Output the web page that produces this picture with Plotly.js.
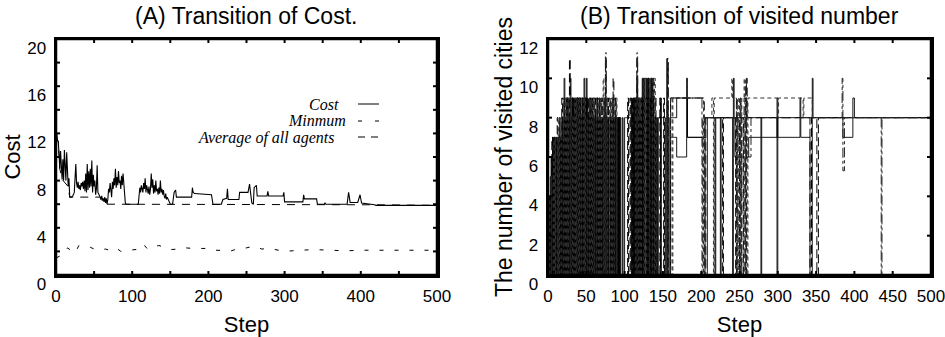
<!DOCTYPE html>
<html>
<head>
<meta charset="utf-8">
<script src="https://cdn.plot.ly/plotly-3.0.1.min.js"></script>
<style>html,body{margin:0;padding:0;background:#fff;}#chart{width:945px;height:337px;}</style>
</head>
<body>
<div id="chart"></div>
<script>
// ---------- Panel A: Transition of Cost ----------
const costSteps = [0,1,2,3,4,5,6,7,8,9,10,11,12,13,14,15,16,17,18,20,22,24,25,26,27,28,29,30,31,32,33,34,35,36,37,38,39,40,41,42,43,44,45,46,47,48,49,50,51,52,53,54,55,56,57,58,59,60,61,62,63,64,65,66,67,68,69,70,71,72,73,74,75,76,77,78,79,80,81,82,83,84,85,86,87,88,89,90,91,92,108,110,111,112,113,114,115,116,117,118,119,120,121,122,123,124,125,126,127,128,129,130,131,132,133,134,135,136,137,138,139,140,141,142,143,144,145,146,148,150,153,155,157,158,178,179,180,182,204,206,217,219,224,225,226,240,241,252,254,255,257,259,260,263,264,277,278,279,298,299,300,324,325,326,342,343,352,353,354,382,384,386,396,399,401,418,420,500];
const costValues = [11.8,12.0,11.4,11.3,10.2,9.0,10.5,8.5,8.1,9.8,8.0,10.6,8.2,8.0,10.4,8.5,7.5,8.2,6.6,6.6,6.7,7.0,8.4,9.4,7.8,7.4,7.9,7.3,7.6,7.2,7.8,7.5,7.9,7.3,8.0,7.1,8.6,7.0,9.4,7.2,8.8,7.4,9.0,7.5,9.7,7.0,8.5,7.5,8.0,6.8,7.3,9.3,7.0,6.9,6.7,6.6,6.4,6.7,6.3,6.5,6.2,6.6,6.1,6.5,6.0,6.4,7.3,7.0,7.8,7.2,6.6,7.9,7.3,8.2,7.6,9.0,7.4,8.3,7.6,8.8,7.8,8.0,7.3,8.4,7.6,8.6,7.5,7.3,6.1,6.0,6.0,7.4,7.0,7.6,7.2,7.0,7.8,7.3,8.2,7.0,7.6,7.1,6.9,7.5,6.8,7.3,8.6,7.4,8.1,6.9,7.6,7.0,8.0,7.1,7.3,6.8,7.4,6.9,8.0,7.0,7.3,6.8,7.2,6.7,6.5,6.9,6.4,6.6,6.2,6.0,6.0,7.0,7.2,6.6,6.6,7.4,7.0,6.9,6.8,6.0,6.0,6.4,6.5,7.3,6.4,6.4,7.0,7.0,7.7,7.2,6.1,6.0,7.4,7.6,6.7,6.7,7.1,6.7,6.7,7.0,6.2,6.2,6.8,6.45,6.45,6.0,6.0,6.1,6.0,6.0,7.0,6.15,6.15,6.8,6.1,5.95,5.9,5.9];

const avgSteps = [0,3,5,8,16,18,58,59,63,67,420,500];
const avgValues = [11.8,11.3,9.0,8.1,7.5,6.6,6.6,6.4,6.2,6.0,5.95,5.9];

const minSteps = [0,5,10,15,20,25,30,35,40,45,50,55,60,65,70,75,80,85,90,95,100,105,110,115,120,125,130,135,140,145,150,160,170,180,190,200,210,220,230,240,250,260,270,280,290,300,320,340,360,380,400,420,440,460,480,500];
const minValues = [1.45,1.6,1.75,2.3,2.1,1.85,2.5,2.45,2.4,2.35,2.2,2.1,2.15,2.2,2.1,2.3,2.25,2.0,2.05,2.1,2.1,2.15,2.2,2.6,2.2,2.35,2.45,2.5,2.4,2.3,2.15,2.2,2.3,2.25,2.25,2.25,2.1,2.1,2.05,2.25,2.3,2.45,2.2,2.25,2.1,2.0,2.1,2.15,2.1,2.05,2.1,2.1,2.1,2.1,2.1,2.1];

// tick positions
const stepTicks = [0,50,100,150,200,250,300,350,400,450,500];
const costTicks = [0,2,4,6,8,10,12,14,16,18,20];
const visitedTicks = [0,2,4,6,8,10,12];

// ---------- Panel B: visited cities per agent ----------
const agentA = [4,0,4,0,6,0,6,0,7,0, 7,0,7,7,0,8,0,7,0,8, 0,10,0,8,0,9,0,9,9,0, 8,0,9,0,9,0,8,0,9,0, 9,9,0,8,0,9,0,10,0,9, 0,9,0,8,8,0,9,0,8,0, 8,0,8,0,9,0,8,8,0,8, 0,8,0,9,0,8,0,8,0,8, 8,0,8,0,9,0,8,0,8,0, 8,0,8,0,8,0,0,8,0,0, 8,8,8,8,8,8,8,8,8,8, 8,0,9,0,9,0,10,0,9,0, 8,0,9,0,10,0,10,10,0,9, 0,10,0,9,0,10,0,9,0,8, 0,0,8,0,0,0,0,9,0,0, 0,0,0,0,0,11,0,0,0,8, 8,8,8,8,8,8];
const agentATailSteps = [168,181,182,205,218,219,225,226,241,242,243,278,279,299,300,500];
const agentATailValues = [9,10,7,8,0,8,0,8,0,10,8,0,8,0,8,8];

const agentB = [0,3,0,5,0,6,7,0,6,0, 0,7,0,0,7,0,7,0,8,0, 7,0,8,0,9,9,0,8,0,10, 0,9,9,0,8,0,9,0,9,9, 0,9,0,9,9,0,8,0,9,0, 10,0,8,0,9,0,8,0,9,9, 0,8,0,8,0,8,0,9,0,8, 8,0,8,0,9,0,8,0,8,0, 0,8,0,8,8,0,8,0,8,0, 0,8,0,8,0,0,0,0,0,0, 0,0,0,0,0,0,0,0,0,9, 0,9,0,8,0,9,0,9,0,8, 0,9,0,10,0,9,0,0,10,0, 10,0,9,0,10,10,0,9,0,0, 8,0,0,0,8,8,8,8,8,8, 8,8,8,0,8,8,8,0,0,0, 7,7,7,7,7,7];
const agentBTailSteps = [168,181,182,205,208,244,262,299,300,329,330,342,345,346,385,398,400,500];
const agentBTailValues = [6,9,7,0,8,6,7,9,7,9,7,0,10,8,7,9,8,8];

const agentC = [0,0,4,0,0,7,0,0,7,0, 0,0,8,0,0,7,0,0,9,0, 0,9,0,0,9,0,0,0,11,0, 0,0,9,0,0,9,0,0,9,0, 0,0,9,0,0,9,0,0,0,9, 0,0,9,0,0,9,0,0,9,0, 0,9,0,0,9,0,0,9,0,0, 9,0,0,0,9,11,0,0,9,0, 0,9,0,0,0,10,0,0,9,0, 0,0,8,0,0,0,0,0,0,0, 0,0,0,0,9,0,0,9,0,0, 9,0,0,9,0,0,11,0,0,9, 0,0,9,0,0,9,0,0,9,0, 0,10,0,0,9,0,0,10,0,0, 9,0,0,0,0,0,9,0,0,0, 0,9,0,0,0,0,11,0,0,0, 9,9,9,9,9,9];
const agentCTailSteps = [168,204,206,228,229,245,246,247,248,250,251,252,253,255,256,258,259,260,342,344,351,353,500];
const agentCTailValues = [9,0,8,0,8,0,9,0,8,0,9,0,8,0,9,0,10,8,0,8,0,8,8];

const agentD = [0,4,0,0,5,0,0,6,0,7, 0,0,7,0,8,0,0,8,0,0, 9,0,0,9,0,0,9,0,0,9, 0,0,8,0,0,9,0,9,0,0, 9,0,0,9,0,0,9,0,9,0, 0,8,0,0,9,0,0,9,0,0, 9,0,0,9,0,0,9,0,0,9, 0,0,10,0,9,0,0,9,0,0, 9,0,0,9,0,0,9,0,0,9, 0,0,0,0,0,0,0,0,0,0, 0,0,0,0,0,0,0,0,0,0, 0,0,0,0,9,0,0,0,9,0, 0,9,0,0,0,10,0,0,9,0, 0,0,10,0,0,0,9,0,0,10, 0,0,0,0,0,0,0,0,0,0, 0,0,0,0,0,9,9,9,9,9, 9,9,0,9,9,9];
const agentDTailSteps = [168,181,182,203,205,214,216,217,240,241,246,247,249,250,252,253,256,257,258,260,261,300,301,333,334,345,500];
const agentDTailValues = [9,10,9,0,8,9,0,9,10,9,0,9,0,9,0,9,10,0,9,0,9,8,9,8,9,8,8];

const agentESteps = [0,75,76,116,117,156,157,160,200,201,202,258,259,265,384,385,387,435,436,500];
const agentEValues = [0,11.3,0,11.3,0,11,0,9,9,0,8,10,6,8,10,5.3,8,0,8,8];

function agent(dense, tailSteps, tailValues) {
  return { x: dense.map((v, i) => i).concat(tailSteps), y: dense.concat(tailValues) };
}
const A = agent(agentA, agentATailSteps, agentATailValues);
const B = agent(agentB, agentBTailSteps, agentBTailValues);
const C = agent(agentC, agentCTailSteps, agentCTailValues);
const D = agent(agentD, agentDTailSteps, agentDTailValues);

const W = 945, H = 337;
const px = v => v / W, py = v => (H - v) / H;

const traces = [
  {x: costSteps, y: costValues, xaxis: 'x', yaxis: 'y', mode: 'lines', name: 'Cost', line: {color: '#000', width: 1.1}},
  {x: minSteps, y: minValues, xaxis: 'x', yaxis: 'y', mode: 'lines', name: 'Minmum', line: {color: '#000', width: 1, dash: '4px,11px'}},
  {x: avgSteps, y: avgValues, xaxis: 'x', yaxis: 'y', mode: 'lines', name: 'Average of all agents', line: {color: '#000', width: 1, dash: '8px,7px'}},
  {x: A.x, y: A.y, xaxis: 'x2', yaxis: 'y2', mode: 'lines', line: {color: '#000', width: 0.9, shape: 'hv'}},
  {x: B.x, y: B.y, xaxis: 'x2', yaxis: 'y2', mode: 'lines', line: {color: '#000', width: 0.9, shape: 'hv'}},
  {x: C.x, y: C.y, xaxis: 'x2', yaxis: 'y2', mode: 'lines', line: {color: '#000', width: 1, shape: 'hv', dash: '9px,4px'}},
  {x: D.x, y: D.y, xaxis: 'x2', yaxis: 'y2', mode: 'lines', line: {color: '#333', width: 1, shape: 'hv', dash: '4px,3px'}},
  {x: agentESteps, y: agentEValues, xaxis: 'x2', yaxis: 'y2', mode: 'lines', line: {color: '#222', width: 1, shape: 'hv', dash: '10px,3px,3px,3px'}}
];

const yDom = [62 / H, 298 / H];
const xDomA = [56 / W, 437 / W];
const xDomB = [548 / W, 931 / W];
const rangeStep = [0, 500], rangeCost = [0, 20], rangeVisited = [0, 12];

function axisCommon(extra) {
  return Object.assign({
    showline: true, linewidth: 2.5, linecolor: '#000', mirror: true,
    ticks: '', showgrid: false, zeroline: false, ticklabeloverflow: 'allow',
    tickfont: {size: 17, color: '#000'}
  }, extra);
}

// frame and inside tick marks as paper-space shapes (axis decorations)
const shapes = [];
function frameAndTicks(xd, yd, xr, yr, xt, yt) {
  const lw = 2.5, tl = 4;
  shapes.push({type: 'rect', xref: 'paper', yref: 'paper', x0: xd[0], x1: xd[1], y0: yd[0], y1: yd[1],
    line: {color: '#000', width: lw}, layer: 'above'});
  const fx = t => xd[0] + (t - xr[0]) / (xr[1] - xr[0]) * (xd[1] - xd[0]);
  const fy = t => yd[0] + (t - yr[0]) / (yr[1] - yr[0]) * (yd[1] - yd[0]);
  xt.forEach(t => {
    shapes.push({type: 'line', xref: 'paper', yref: 'paper', x0: fx(t), x1: fx(t), y0: yd[0], y1: yd[0] + tl / H, line: {color: '#000', width: 2}, layer: 'above'});
    shapes.push({type: 'line', xref: 'paper', yref: 'paper', x0: fx(t), x1: fx(t), y0: yd[1], y1: yd[1] - tl / H, line: {color: '#000', width: 2}, layer: 'above'});
  });
  yt.forEach(t => {
    shapes.push({type: 'line', xref: 'paper', yref: 'paper', y0: fy(t), y1: fy(t), x0: xd[0], x1: xd[0] + tl / W, line: {color: '#000', width: 2}, layer: 'above'});
    shapes.push({type: 'line', xref: 'paper', yref: 'paper', y0: fy(t), y1: fy(t), x0: xd[1], x1: xd[1] - tl / W, line: {color: '#000', width: 2}, layer: 'above'});
  });
}
frameAndTicks(xDomA, yDom, rangeStep, rangeCost, stepTicks, costTicks);
frameAndTicks(xDomB, yDom, rangeStep, rangeVisited, stepTicks, visitedTicks);

// legend line samples
shapes.push(
  {type: 'line', xref: 'paper', yref: 'paper', x0: px(358), x1: px(379), y0: py(104), y1: py(104), line: {color: '#000', width: 1}},
  {type: 'line', xref: 'paper', yref: 'paper', x0: px(358), x1: px(379), y0: py(121), y1: py(121), line: {color: '#000', width: 1, dash: '4px,13px'}},
  {type: 'line', xref: 'paper', yref: 'paper', x0: px(358), x1: px(379), y0: py(137), y1: py(137), line: {color: '#000', width: 1, dash: '7px,6px'}}
);

const serif = 'Liberation Serif, Times New Roman, serif';
const layout = {
  width: W, height: H, margin: {l: 0, r: 0, t: 0, b: 0},
  paper_bgcolor: '#fff', plot_bgcolor: '#fff', showlegend: false,
  font: {family: 'Liberation Sans, Arial, sans-serif', color: '#000'},
  xaxis: axisCommon({domain: xDomA, range: rangeStep, tick0: 0, dtick: 100,
    ticklabelstandoff: 4, anchor: 'y', title: {text: 'Step', font: {size: 22}, standoff: 12}}),
  yaxis: axisCommon({domain: yDom, range: rangeCost, tick0: 0, dtick: 4,
    ticklabelshift: 9, ticklabelstandoff: 4, anchor: 'x', title: {text: 'Cost', font: {size: 22}, standoff: 1}}),
  xaxis2: axisCommon({domain: xDomB, range: rangeStep, tick0: 0, dtick: 50,
    ticklabelstandoff: 4, anchor: 'y2', title: {text: 'Step', font: {size: 22}, standoff: 12}}),
  yaxis2: axisCommon({domain: yDom, range: rangeVisited, tick0: 0, dtick: 2,
    ticklabelshift: 9, ticklabelstandoff: 4, anchor: 'x2', title: {text: 'The number of visited cities', font: {size: 23}, standoff: 0}}),
  annotations: [
    {text: '(A) Transition of Cost.', xref: 'paper', yref: 'paper', x: px(246.5), y: py(16), xanchor: 'center', yanchor: 'middle', showarrow: false, font: {size: 23}},
    {text: '(B) Transition of visited number', xref: 'paper', yref: 'paper', x: px(739.5), y: py(16), xanchor: 'center', yanchor: 'middle', showarrow: false, font: {size: 23}},
    {text: '<i>Cost</i>', xref: 'paper', yref: 'paper', x: px(341), y: py(104), xanchor: 'right', yanchor: 'middle', showarrow: false, font: {family: serif, size: 16}},
    {text: '<i>Minmum</i>', xref: 'paper', yref: 'paper', x: px(348), y: py(121), xanchor: 'right', yanchor: 'middle', showarrow: false, font: {family: serif, size: 16}},
    {text: '<i>Average of all agents</i>', xref: 'paper', yref: 'paper', x: px(337), y: py(138), xanchor: 'right', yanchor: 'middle', showarrow: false, font: {family: serif, size: 16}}
  ],
  shapes: shapes
};

Plotly.newPlot('chart', traces, layout, {staticPlot: true, displayModeBar: false});
</script>
</body>
</html>
